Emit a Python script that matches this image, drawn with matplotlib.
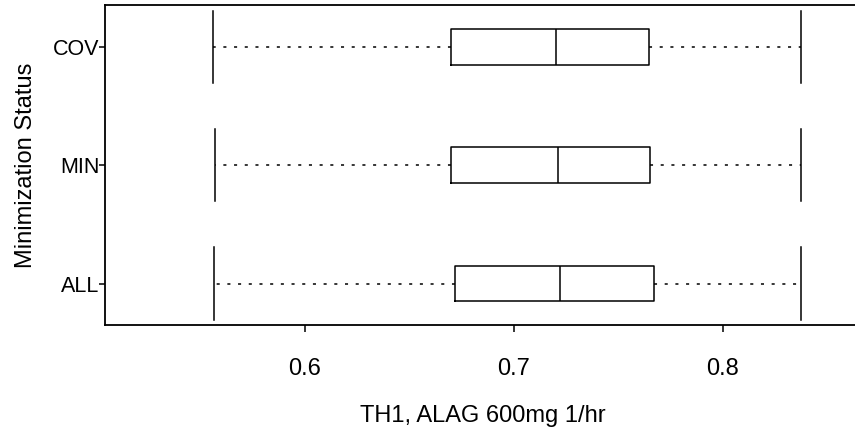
import matplotlib
matplotlib.use('Agg')
import matplotlib.pyplot as plt

plt.rcParams['font.family'] = ['Liberation Sans', 'DejaVu Sans']

groups = ['ALL', 'MIN', 'COV']
lower = [0.5566, 0.5569, 0.5560]
q1 = [0.6719, 0.6700, 0.6700]
medians = [0.7222, 0.7212, 0.7200]
q3 = [0.7671, 0.7652, 0.7647]
upper = [0.8374, 0.8375, 0.8375]

stats = []
for i in range(len(groups)):
    stats.append({'label': groups[i], 'whislo': lower[i], 'q1': q1[i],
                  'med': medians[i], 'q3': q3[i], 'whishi': upper[i], 'fliers': []})

fig = plt.figure(figsize=(8.55, 4.33), dpi=100)
# panel runs a little past the right edge of the figure, as in the original
ax = fig.add_axes([0.1232, 0.2494, 0.884, 0.7383])

ax.bxp(stats, positions=[1, 2, 3], orientation='horizontal', widths=0.30,
       capwidths=0.61, showfliers=False,
       boxprops=dict(color='black', linewidth=1.1),
       medianprops=dict(color='black', linewidth=1.1),
       whiskerprops=dict(color='black', linewidth=1.1, linestyle=(0, (2, 5))),
       capprops=dict(color='black', linewidth=1.1))

ax.set_xlim(0.5046, 0.8662)
ax.set_ylim(0.65, 3.35)
ax.set_xticks([0.6, 0.7, 0.8])
ax.set_xticklabels(['0.6', '0.7', '0.8'])
ax.set_yticks([1, 2, 3])
ax.set_yticklabels(groups)
ax.tick_params(axis='x', length=5, width=1.1, pad=19, labelsize=17)
ax.tick_params(axis='y', length=4, width=1.1, pad=0, labelsize=15.5)
for s in ax.spines.values():
    s.set_linewidth(1.3)

ax.set_xlabel('TH1, ALAG 600mg 1/hr', fontsize=17)
ax.set_ylabel('Minimization Status', fontsize=17)
ax.xaxis.set_label_coords(0.5, -0.25)
ax.yaxis.set_label_coords(-0.091, 0.5)

fig.savefig('out.png', dpi=100)
